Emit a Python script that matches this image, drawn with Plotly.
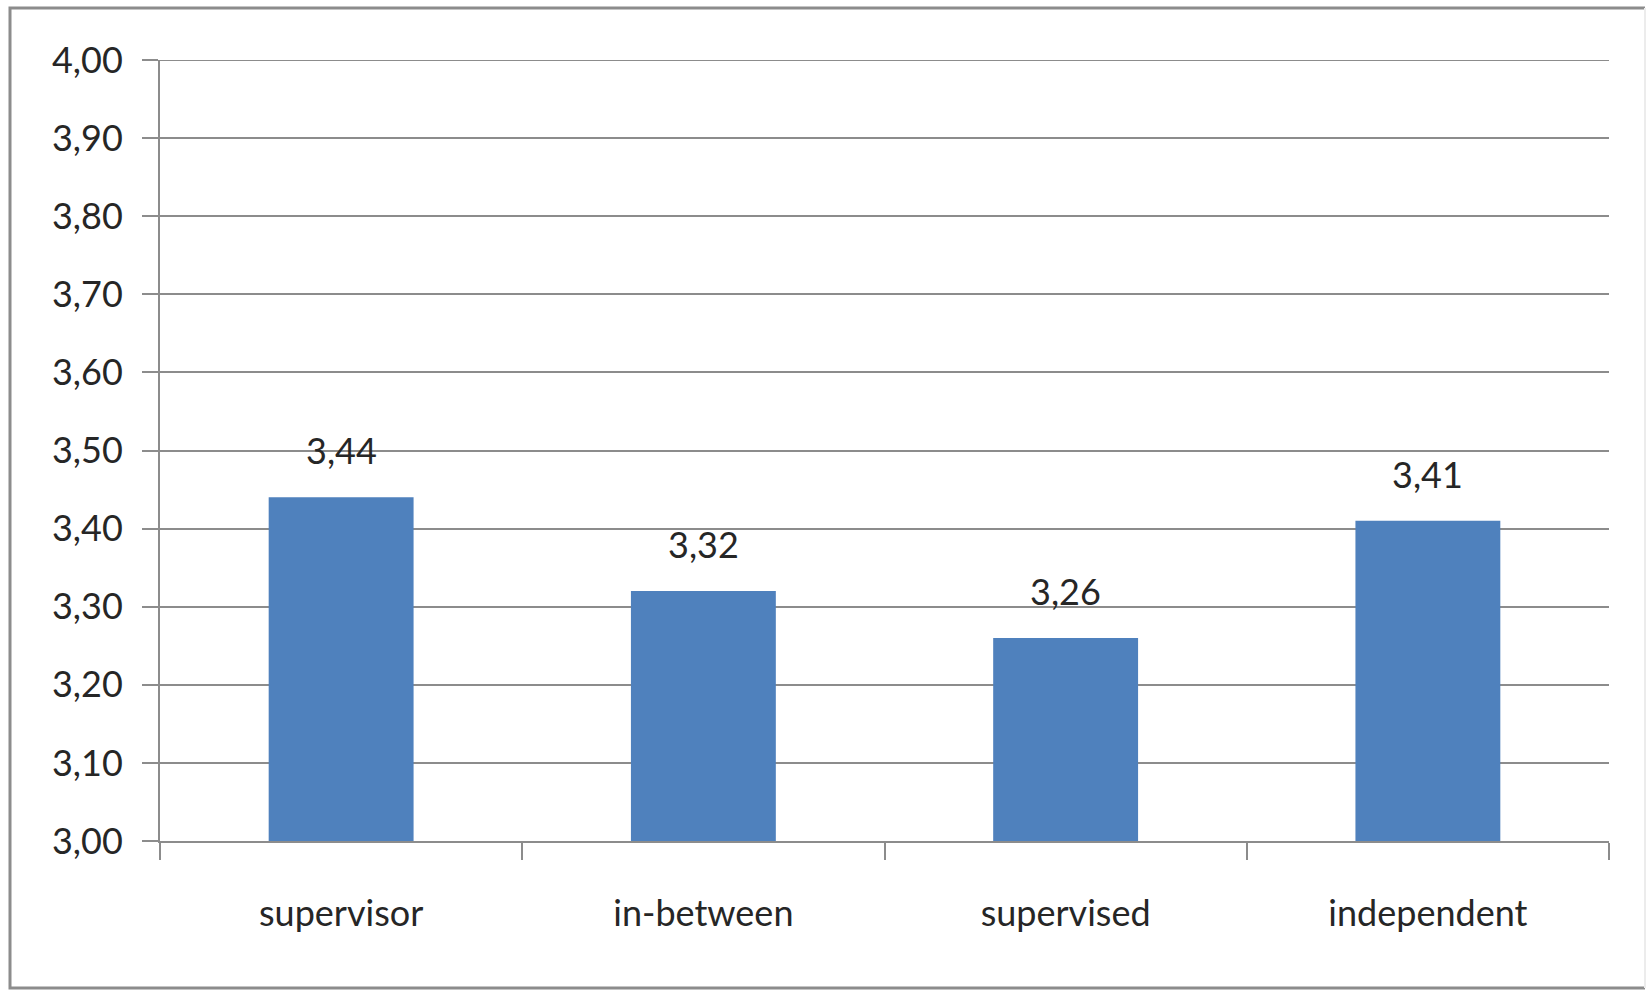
import plotly.graph_objects as go

categories = ["supervisor", "in-between", "supervised", "independent"]
values = [3.44, 3.32, 3.26, 3.41]
y_ticks = [3.0, 3.1, 3.2, 3.3, 3.4, 3.5, 3.6, 3.7, 3.8, 3.9, 4.0]

FONT = "Lato, 'Open Sans', sans-serif"
GRID = "#8c8c8c"
BAR = "#4f81bd"

W, H = 1648, 990
ML, MR, MT, MB = 160, 39, 60, 149

fig = go.Figure(
    go.Bar(
        x=categories,
        y=values,
        marker=dict(color=BAR, line=dict(width=0)),
        width=0.4,
        hoverinfo="x+y",
    )
)

# value labels floating above each bar
for c, v in zip(categories, values):
    fig.add_annotation(
        x=c, y=v, text=f"{v:.2f}".replace(".", ","),
        showarrow=False, yanchor="bottom", yshift=23,
        font=dict(family=FONT, size=36, color="#262626"),
    )

# top gridline at the upper end of the value range
fig.add_shape(
    type="line", xref="paper", yref="y",
    x0=0, x1=1, y0=y_ticks[-1], y1=y_ticks[-1],
    line=dict(color=GRID, width=2), layer="below",
)

# chart frame around the whole drawing
pw, ph = W - ML - MR, H - MT - MB
def px(xp):
    return (xp - ML) / pw
def py(yp):
    return (H - MB - yp) / ph

fig.add_shape(
    type="path", xref="paper", yref="paper",
    path=f"M {px(1645)},{py(8)} L {px(10)},{py(8)} L {px(10)},{py(988)} L {px(1645)},{py(988)}",
    line=dict(color="#8c8c8c", width=3),
)
fig.add_shape(
    type="line", xref="paper", yref="paper",
    x0=px(1645), x1=px(1645), y0=py(8), y1=py(988),
    line=dict(color="#ececec", width=2),
)

fig.update_layout(
    width=W, height=H,
    margin=dict(l=ML, r=MR, t=MT, b=MB),
    paper_bgcolor="white", plot_bgcolor="white",
    separators=",.",
    showlegend=False,
    font=dict(family=FONT, size=36, color="#262626"),
    bargap=0.6,
    xaxis=dict(
        type="category",
        showgrid=False,
        showline=True, linecolor=GRID, linewidth=2,
        ticks="outside", tickson="boundaries", ticklen=17, tickwidth=2, tickcolor=GRID,
        ticklabelstandoff=40,
        tickfont=dict(family=FONT, size=36, color="#262626"),
    ),
    yaxis=dict(
        range=[3.0, 4.0],
        tickvals=y_ticks,
        tickformat=".2f",
        showgrid=True, gridcolor=GRID, gridwidth=2,
        showline=True, linecolor=GRID, linewidth=2,
        ticks="outside", ticklen=16, tickwidth=2, tickcolor=GRID,
        ticklabelstandoff=12,
        zeroline=False,
        tickfont=dict(family=FONT, size=36, color="#262626"),
    ),
)

fig.write_html("out.html")
